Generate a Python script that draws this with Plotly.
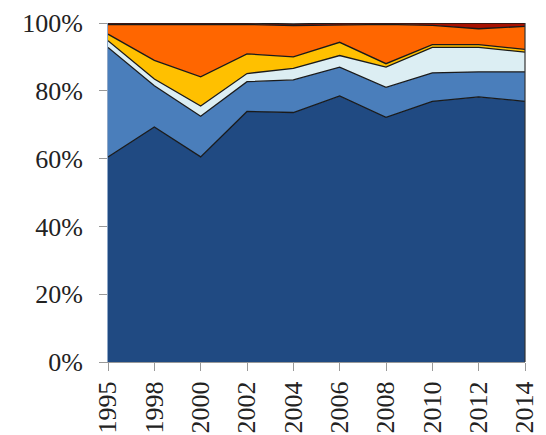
import plotly.graph_objects as go

years = ["1995", "1998", "2000", "2002", "2004", "2006", "2008", "2010", "2012", "2014"]

# layer shares (%), bottom to top
dark_blue = [60.5, 69.3, 60.5, 73.9, 73.6, 78.5, 72.2, 76.9, 78.2, 76.9]
mid_blue = [32.3, 12.2, 12.0, 8.8, 9.6, 8.5, 8.8, 8.4, 7.4, 8.7]
light_blue = [2.0, 2.0, 3.0, 2.4, 3.4, 3.4, 6.0, 7.5, 7.2, 5.8]
yellow = [1.9, 5.5, 8.6, 5.8, 3.4, 3.9, 1.0, 0.8, 0.8, 0.8]
orange = [2.8, 10.5, 15.4, 8.7, 9.2, 5.2, 11.6, 5.7, 4.7, 6.8]
dark_red = [0.5, 0.5, 0.5, 0.4, 0.5, 0.5, 0.4, 0.7, 1.7, 1.0]

layers = [
    ("Dark blue", dark_blue, "#204A82"),
    ("Blue", mid_blue, "#4A7EBB"),
    ("Light blue", light_blue, "#DCEEF3"),
    ("Yellow", yellow, "#FFC000"),
    ("Orange", orange, "#FF6600"),
    ("Dark red", dark_red, "#A81000"),
]

fig = go.Figure()
for name, vals, col in layers:
    fig.add_trace(go.Scatter(
        x=years, y=vals, name=name, mode="lines",
        stackgroup="one", fillcolor=col,
        line=dict(color="#1a1a1a", width=1.3),
    ))

# right-hand frame edge
fig.add_shape(type="line", xref="paper", yref="paper", x0=1, x1=1, y0=0, y1=1,
              line=dict(color="#333", width=1.2))

font = dict(family="Liberation Serif", size=26, color="#222")
fig.update_layout(
    width=538, height=427,
    margin=dict(l=100, r=21, t=15, b=73, autoexpand=False),
    paper_bgcolor="white", plot_bgcolor="white",
    showlegend=False,
    font=font,
)
fig.update_xaxes(
    type="category", range=[0, 9], tickangle=-90,
    showgrid=False, ticks="outside", ticklen=8, tickcolor="#999",
    showline=True, linecolor="#999", linewidth=1, tickfont=font,
    automargin=False, ticklabelstandoff=0, ticklabeloverflow="allow",
)
fig.update_yaxes(
    range=[0, 100], tickvals=[0, 20, 40, 60, 80, 100],
    ticktext=["0%", "20%", "40%", "60%", "80%", "100%"],
    showgrid=False, ticks="outside", ticklen=8, tickcolor="#999",
    showline=True, linecolor="#8fa8c8", linewidth=1, tickfont=font,
    zeroline=False, automargin=False, ticklabelstandoff=11,
    ticklabeloverflow="allow",
)
fig.write_html("out.html")
